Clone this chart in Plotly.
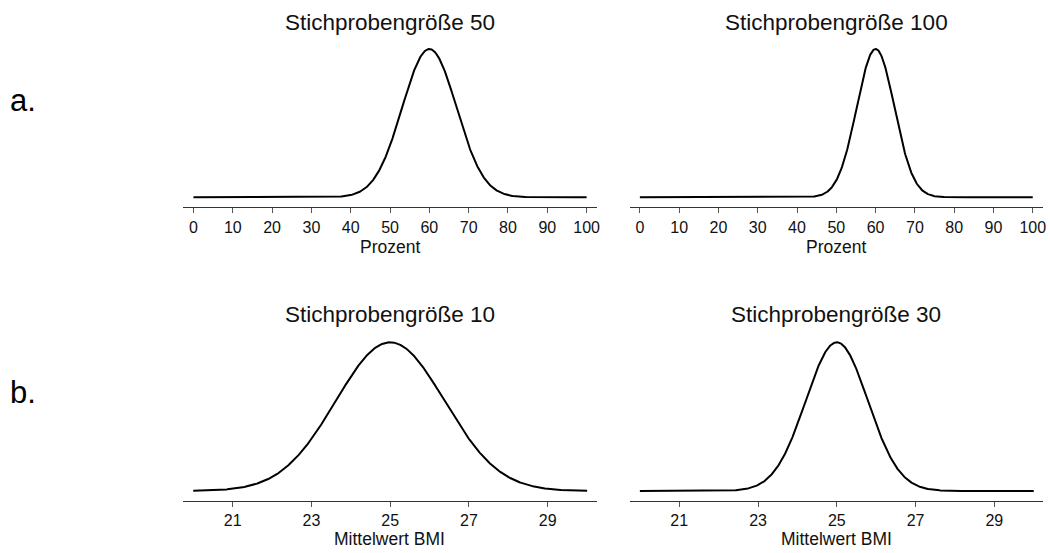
import numpy as np
import plotly.graph_objects as go

# ---- data ----
panel_titles = ["Stichprobengröße 50", "Stichprobengröße 100",
                "Stichprobengröße 10", "Stichprobengröße 30"]
sample_sizes = [50, 100, 10, 30]
curve_means = [60, 60, 25, 25]          # centre of each sampling distribution
curve_sds = [6.9, 4.8, 1.38, 0.79]      # spread
x_starts = [0, 0, 20, 20]
x_ends = [100, 100, 30, 30]
x_titles = ["Prozent", "Prozent", "Mittelwert BMI", "Mittelwert BMI"]
tick_values_pct = [0, 10, 20, 30, 40, 50, 60, 70, 80, 90, 100]
tick_values_bmi = [21, 23, 25, 27, 29]
row_labels = ["a.", "b."]

W, H = 1050, 553
FONT = "Liberation Sans, Arial, Helvetica, sans-serif"


def py(px):
    return 1 - px / H


def pxx(px):
    return px / W


fig = go.Figure()

# pixel layout of each panel: axis-line x extent, data 0/end pixel, axis y, peak y
panels = [
    dict(x0=183.3, x1=598.3, d0=194.0, d1=588.3, axis=207.3, peak=49.0),
    dict(x0=631.7, x1=1046.0, d0=641.7, d1=1035.7, axis=207.3, peak=49.0),
    dict(x0=183.3, x1=598.3, d0=193.8, d1=588.8, axis=501.0, peak=342.3),
    dict(x0=631.7, x1=1046.0, d0=641.7, d1=1036.7, axis=501.0, peak=342.3),
]
baseline_gap = [10.0, 10.0, 10.0, 10.0]

for i, p in enumerate(panels):
    xs = np.linspace(x_starts[i], x_ends[i], 800)
    m, s = curve_means[i], curve_sds[i]
    dens = np.exp(-0.5 * ((xs - m) / s) ** 2) / (s * np.sqrt(2 * np.pi))
    pk = dens.max()
    ax = "" if i == 0 else str(i + 1)
    fig.add_trace(go.Scatter(x=xs, y=dens, mode="lines",
                             line=dict(color="black", width=2),
                             xaxis="x" + ax, yaxis="y" + ax,
                             showlegend=False, hoverinfo="skip"))
    upp = (x_ends[i] - x_starts[i]) / (p["d1"] - p["d0"])
    xr = [x_starts[i] - (p["d0"] - p["x0"]) * upp, x_ends[i] + (p["x1"] - p["d1"]) * upp]
    top_px = p["peak"] - 10
    span = p["axis"] - baseline_gap[i] - p["peak"]
    ypp = pk / span
    yr = [-baseline_gap[i] * ypp, pk + 10 * ypp]
    tv = tick_values_pct if i < 2 else tick_values_bmi
    fig.update_layout(**{
        "xaxis" + ax: dict(domain=[pxx(p["x0"]), pxx(p["x1"])], range=xr,
                            anchor="y" + ax, showgrid=False, zeroline=False,
                            showline=True, linecolor="#333333", linewidth=1,
                            ticks="outside", ticklen=5, tickcolor="#555555",
                            tickwidth=1, tickvals=tv, ticktext=[str(v) for v in tv],
                            tickfont=dict(size=16, color="#111111", family=FONT),
                            fixedrange=True),
        "yaxis" + ax: dict(domain=[py(p["axis"]), py(top_px)], range=yr,
                            anchor="x" + ax, visible=False, fixedrange=True),
    })
    cx = (p["x0"] + p["x1"]) / 2
    title_y = 22 if i < 2 else 314
    xt_y = 247 if i < 2 else 539
    fig.add_annotation(x=pxx(cx), y=py(title_y), xref="paper", yref="paper",
                       text=panel_titles[i], showarrow=False,
                       xanchor="center", yanchor="middle",
                       font=dict(size=22.5, color="#111111", family=FONT))
    fig.add_annotation(x=pxx(cx), y=py(xt_y), xref="paper", yref="paper",
                       text=x_titles[i], showarrow=False,
                       xanchor="center", yanchor="middle",
                       font=dict(size=17.5, color="#111111", family=FONT))

for lbl, ypx in zip(row_labels, [101, 392]):
    fig.add_annotation(x=pxx(8), y=py(ypx), xref="paper", yref="paper",
                       text=lbl, showarrow=False, xanchor="left", yanchor="middle",
                       font=dict(size=31, color="black", family=FONT))

fig.update_layout(width=W, height=H, margin=dict(l=0, r=0, t=0, b=0),
                  paper_bgcolor="white", plot_bgcolor="white",
                  font=dict(family=FONT))

fig.write_html("out.html",
               config={"displayModeBar": False, "staticPlot": True},
               post_script="document.body.style.margin='0px';"
                           "document.body.style.overflow='hidden';")
